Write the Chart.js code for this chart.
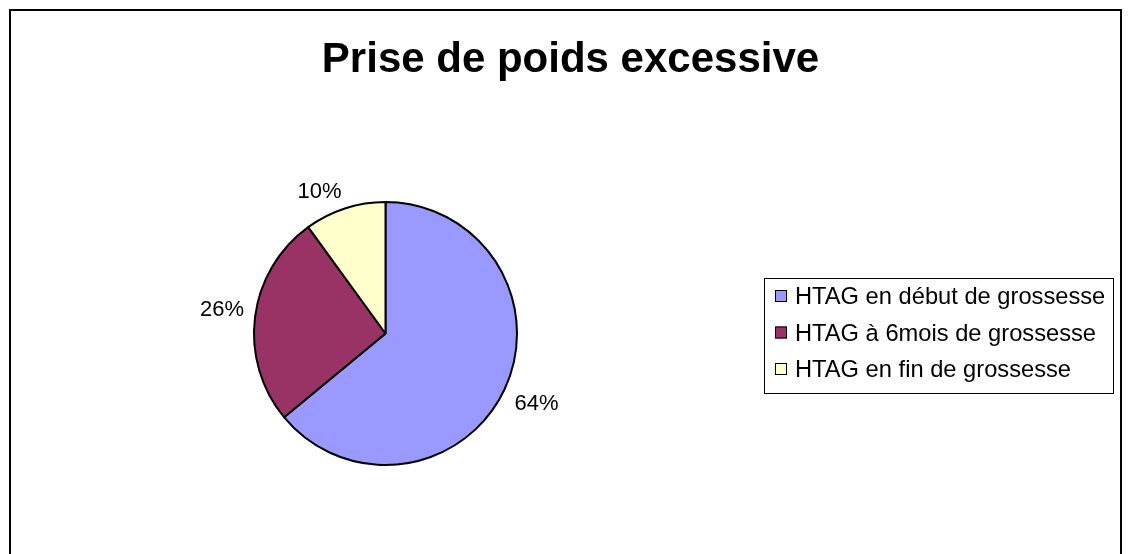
<!DOCTYPE html>
<html>
<head>
<meta charset="utf-8">
<script src="https://cdn.jsdelivr.net/npm/chart.js@4/dist/chart.umd.min.js"></script>
<style>
  html, body { margin: 0; padding: 0; background: #fff; }
  #wrap { width: 1129px; height: 554px; position: relative; overflow: hidden; }
</style>
</head>
<body>
<div id="wrap"><canvas id="c" width="1129" height="554"></canvas></div>
<script>
// Chart content
const titleText = 'Prise de poids excessive';
const categories = ['HTAG en début de grossesse', 'HTAG à 6mois de grossesse', 'HTAG en fin de grossesse'];
const shares = [64, 26, 10];
const sliceColors = ['#9999FF', '#993366', '#FFFFCC'];

const FONT = '"Liberation Sans", Arial, Helvetica, sans-serif';

// Frame, title, outside percentage labels and boxed legend
const decor = {
  id: 'decor',
  afterDraw(chart) {
    const ctx = chart.ctx;
    ctx.save();

    // outer frame
    ctx.strokeStyle = '#000';
    ctx.lineWidth = 2;
    ctx.strokeRect(10, 10, 1111, 580);

    // title
    ctx.fillStyle = '#000';
    ctx.font = 'bold 42px ' + FONT;
    ctx.textAlign = 'center';
    ctx.textBaseline = 'alphabetic';
    ctx.fillText(titleText, 570.5, 72);

    // percentage labels: the label corner nearest the pie sits on the slice bisector
    const meta = chart.getDatasetMeta(0);
    const labelSize = 22;
    const capH = 0.716 * labelSize;
    ctx.font = labelSize + 'px ' + FONT;
    meta.data.forEach((arc, i) => {
      const p = arc.getProps(['x', 'y', 'startAngle', 'endAngle', 'outerRadius']);
      const mid = (p.startAngle + p.endAngle) / 2;
      const d = p.outerRadius + 11;
      const ax = p.x + Math.cos(mid) * d;
      const ay = p.y + Math.sin(mid) * d;
      ctx.textAlign = Math.cos(mid) >= 0 ? 'left' : 'right';
      const baseline = Math.sin(mid) >= 0 ? ay + capH : ay;
      ctx.fillText(shares[i] + '%', ax, baseline);
    });

    // legend
    const box = { x: 764.5, y: 278.5, w: 349, h: 115 };
    ctx.lineWidth = 1;
    ctx.strokeStyle = '#000';
    ctx.strokeRect(box.x, box.y, box.w, box.h);
    const legendSize = 23.7;
    ctx.font = legendSize + 'px ' + FONT;
    ctx.textAlign = 'left';
    const rowCenters = [296, 332.5, 369];
    categories.forEach((name, i) => {
      const cy = rowCenters[i];
      ctx.fillStyle = sliceColors[i];
      ctx.fillRect(775, cy - 6, 12, 12);
      ctx.strokeStyle = '#000';
      ctx.strokeRect(775.5, cy - 5.5, 11, 11);
      ctx.fillStyle = '#000';
      ctx.fillText(name, 795, cy + 0.358 * legendSize);
    });

    ctx.restore();
  }
};

new Chart(document.getElementById('c'), {
  type: 'pie',
  data: {
    labels: categories,
    datasets: [{
      data: shares,
      backgroundColor: sliceColors,
      borderColor: '#000',
      borderWidth: 2,
      hoverOffset: 0,
      radius: 131.5
    }]
  },
  options: {
    responsive: false,
    animation: false,
    devicePixelRatio: 1,
    layout: { padding: { left: 235.5, right: 593.5, top: 183.5, bottom: 70.5 } },
    plugins: {
      legend: { display: false },
      title: { display: false },
      tooltip: { enabled: false }
    }
  },
  plugins: [decor]
});
</script>
</body>
</html>
